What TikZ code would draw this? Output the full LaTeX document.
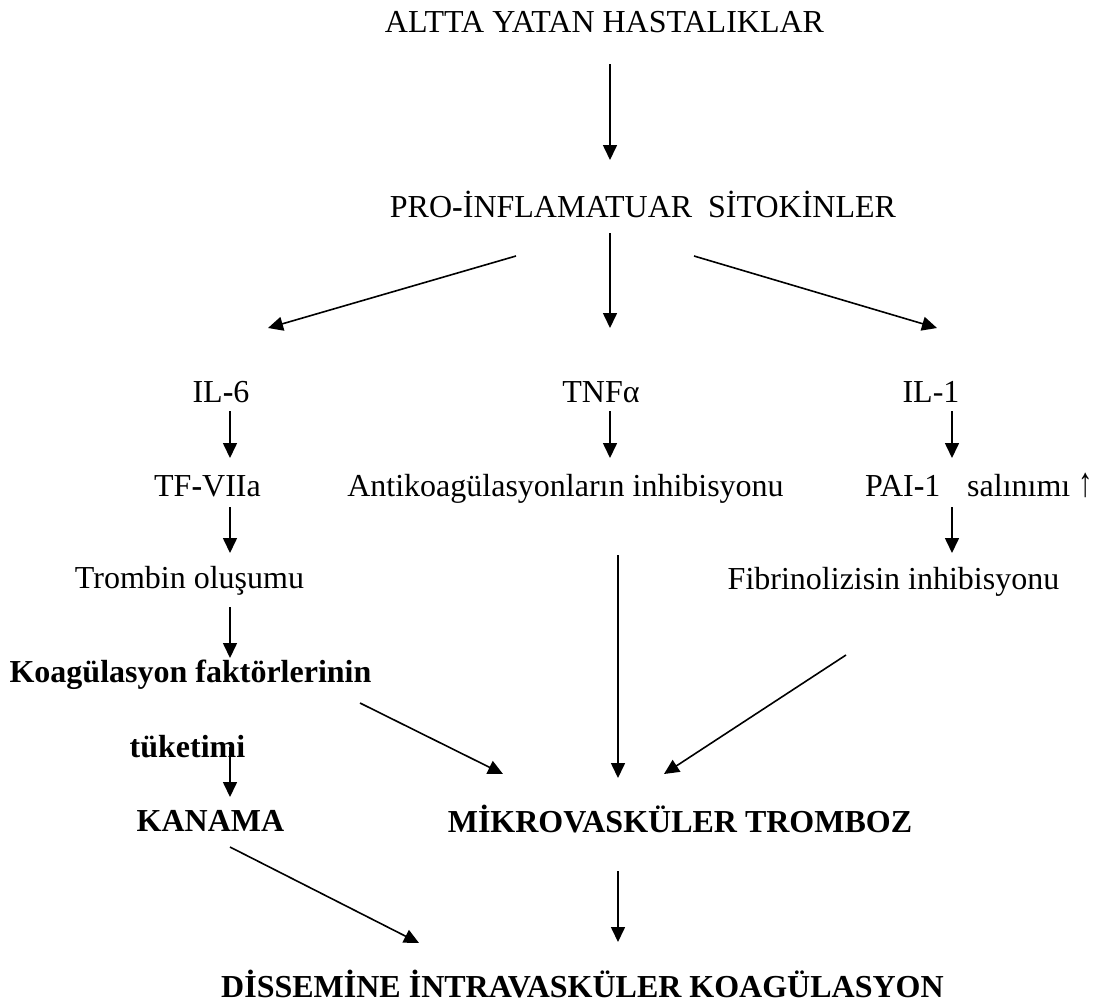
\documentclass[tikz,border=0pt]{standalone}
\usepackage{fontspec}
\setmainfont{Liberation Serif}
\usetikzlibrary{arrows.meta}
\tikzset{
  txt/.style={inner sep=0pt, anchor=base, font=\fontsize{32}{38}\selectfont},
  btxt/.style={txt, font=\fontsize{32}{38}\selectfont\bfseries},
  arr/.style={line width=1.6pt, -{Triangle[length=15pt,width=14pt]}}
}
\begin{document}
\begin{tikzpicture}[x=1pt,y=-1pt]
\useasboundingbox (0,0) rectangle (1106,1005);
% texts
\node[txt] (alt) at (604.5,32) {ALTTA YATAN HASTALIKLAR};
\node[txt] (pro) at (643,217) {PRO{\bfseries -}İNFLAMATUAR\ \ SİTOKİNLER};
\node[txt] (il6) at (221,402) {IL{\bfseries -}6};
\node[txt] (tnf) at (601,402) {TNFα};
\node[txt] (il1) at (931,402) {IL-1};
\node[txt] (tf) at (207.5,496) {TF{\bfseries -}VIIa};
\node[txt] (anti) at (565.5,496) {Antikoagülasyonların inhibisyonu};
\node[txt, anchor=base west] (pai) at (865,496) {PAI{\bfseries -}1};
\node[txt, anchor=base west] (sal) at (967,496) {salınımı \scalebox{0.9}[1.3]{↑}};
\node[txt] (trom) at (189.5,588) {Trombin oluşumu};
\node[txt] (fib) at (893.5,589) {Fibrinolizisin inhibisyonu};
\node[btxt] (koag) at (190.5,682) {Koagülasyon faktörlerinin};
\node[btxt] (tuk) at (187.5,757) {tüketimi};
\node[btxt] (kan) at (210.5,831) {KANAMA};
\node[btxt] (mik) at (680,832) {MİKROVASKÜLER TROMBOZ};
\node[btxt] (dic) at (582.5,997) {DİSSEMİNE İNTRAVASKÜLER KOAGÜLASYON};
% connector end points
\coordinate (alt-s) at (610,64);   \coordinate (pro-n) at (610,160);
\coordinate (pro-sl) at (516,256); \coordinate (il6-n) at (268,328);
\coordinate (pro-s) at (610,233);  \coordinate (tnf-n) at (610,328);
\coordinate (pro-sr) at (694,256); \coordinate (il1-n) at (937,328);
\coordinate (il6-s) at (230,411);  \coordinate (tf-n) at (230,458);
\coordinate (tnf-s) at (610,411);  \coordinate (anti-n) at (610,458);
\coordinate (il1-s) at (952,411);  \coordinate (pai-n) at (952,458);
\coordinate (tf-s) at (230,507);   \coordinate (trom-n) at (230,553);
\coordinate (pai-s) at (952,507);  \coordinate (fib-n) at (952,553);
\coordinate (trom-s) at (230,607); \coordinate (koag-n) at (230,658);
\coordinate (anti-s) at (618,555); \coordinate (mik-n) at (618,778);
\coordinate (koag-se) at (360,703);\coordinate (mik-nw) at (503,774);
\coordinate (fib-sw) at (846,655); \coordinate (mik-ne) at (664,774);
\coordinate (tuk-s) at (230,747);  \coordinate (kan-n) at (230,797);
\coordinate (kan-s) at (230,847);  \coordinate (dic-nw) at (419,943);
\coordinate (mik-s) at (618,871);  \coordinate (dic-n) at (618,942);
% connectors
\draw[arr] (alt-s) -- (pro-n);
\draw[arr] (pro-sl) -- (il6-n);
\draw[arr] (pro-s) -- (tnf-n);
\draw[arr] (pro-sr) -- (il1-n);
\draw[arr] (il6-s) -- (tf-n);
\draw[arr] (tnf-s) -- (anti-n);
\draw[arr] (il1-s) -- (pai-n);
\draw[arr] (tf-s) -- (trom-n);
\draw[arr] (pai-s) -- (fib-n);
\draw[arr] (trom-s) -- (koag-n);
\draw[arr] (anti-s) -- (mik-n);
\draw[arr] (koag-se) -- (mik-nw);
\draw[arr] (fib-sw) -- (mik-ne);
\draw[arr] (tuk-s) -- (kan-n);
\draw[arr] (kan-s) -- (dic-nw);
\draw[arr] (mik-s) -- (dic-n);
\end{tikzpicture}
\end{document}
